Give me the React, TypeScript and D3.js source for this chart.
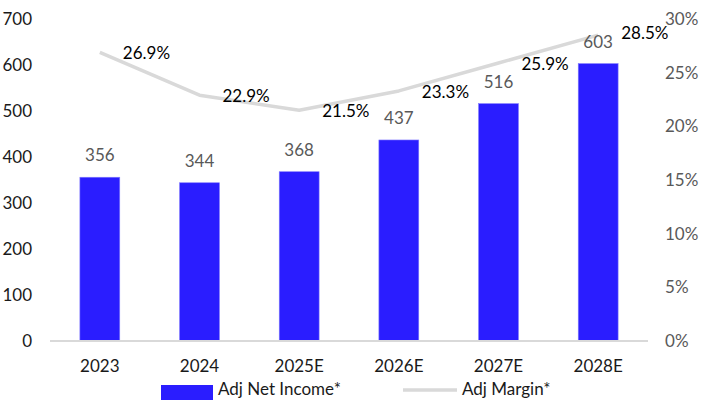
import React from "react";
import * as d3 from "d3";

const categories = ["2023", "2024", "2025E", "2026E", "2027E", "2028E"];
const netIncome = [356, 344, 368, 437, 516, 603];
const margin = [26.9, 22.9, 21.5, 23.3, 25.9, 28.5];
const leftTicks = [0, 100, 200, 300, 400, 500, 600, 700];
const rightTicks = [0, 5, 10, 15, 20, 25, 30];
const seriesNames = ["Adj Net Income*", "Adj Margin*"];

const W = 712;
const H = 400;
const FONT = "Lato, 'Open Sans', sans-serif";
const FS = 17;

export default function App() {
  const x = d3.scaleBand<string>().domain(categories).range([50, 648]).paddingInner(0.6).paddingOuter(0.3);
  const yL = d3.scaleLinear().domain([0, 700]).range([341, 19]);
  const yR = d3.scaleLinear().domain([0, 30]).range([341, 19]);
  const cx = (c: string) => (x(c) as number) + x.bandwidth() / 2;
  const line = d3
    .line<number>()
    .x((_, i) => cx(categories[i]))
    .y((d) => yR(d));
  const legY = 389;

  return (
    <svg width={W} height={H} style={{ position: "absolute", left: 0, top: 0 }} fontFamily={FONT}>
      <rect width={W} height={H} fill="#fff" />
      {leftTicks.map((t) => (
        <text key={t} x={32} y={yL(t)} dy="0.35em" textAnchor="end" fontSize={FS} fill="#1a1a1a">
          {t}
        </text>
      ))}
      {rightTicks.map((t) => (
        <text key={t} x={665} y={yR(t)} dy="0.35em" textAnchor="start" fontSize={FS} fill="#595959">
          {t}%
        </text>
      ))}
      {categories.map((c, i) => (
        <rect
          key={c}
          x={x(c)}
          y={yL(netIncome[i])}
          width={x.bandwidth()}
          height={yL(0) - yL(netIncome[i])}
          fill="#2A1DFF"
          stroke="#7f78ff"
          strokeWidth={0.6}
        />
      ))}
      <line x1={50} x2={648} y1={yL(0)} y2={yL(0)} stroke="#D9D9D9" strokeWidth={2} />
      {categories.map((c) => (
        <text key={c} x={cx(c)} y={366} dy="0.35em" textAnchor="middle" fontSize={FS} fill="#1a1a1a">
          {c}
        </text>
      ))}
      <path d={line(margin) || ""} fill="none" stroke="#D9D9D9" strokeWidth={3.5} strokeLinejoin="round" />
      {categories.map((c, i) => (
        <text key={c} x={cx(c)} y={yL(netIncome[i]) - 22} dy="0.35em" textAnchor="middle" fontSize={FS} fill="#595959">
          {netIncome[i]}
        </text>
      ))}
      {categories.map((c, i) => (
        <text key={c} x={cx(c) + 23} y={yR(margin[i]) + 1 - (i === categories.length - 1 ? 3 : 0)} dy="0.35em" textAnchor="start" fontSize={FS} fill="#000">
          {margin[i].toFixed(1)}%
        </text>
      ))}
      <rect x={161} y={legY - 4} width={52} height={H - legY + 4} fill="#2A1DFF" />
      <text x={218} y={legY} dy="0.35em" fontSize={FS} fill="#1a1a1a">
        {seriesNames[0]}
      </text>
      <line x1={403} x2={457} y1={legY + 1} y2={legY + 1} stroke="#D9D9D9" strokeWidth={3.5} />
      <text x={462} y={legY} dy="0.35em" fontSize={FS} fill="#1a1a1a">
        {seriesNames[1]}
      </text>
    </svg>
  );
}
